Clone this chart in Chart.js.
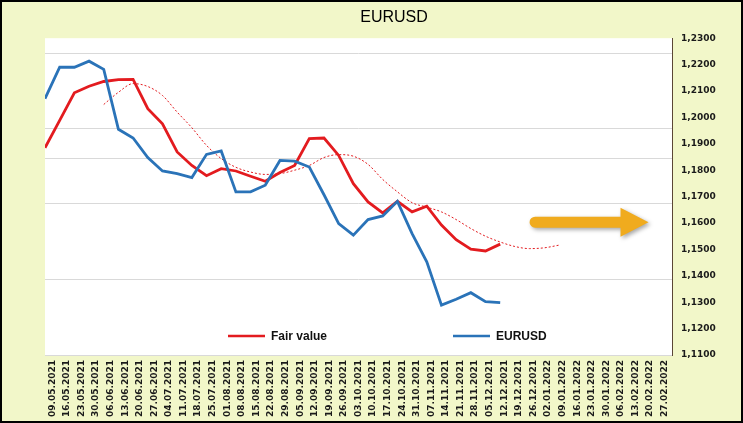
<!DOCTYPE html>
<html>
<head>
<meta charset="utf-8">
<title>EURUSD</title>
<script src="https://cdn.jsdelivr.net/npm/chart.js@4.4.1/dist/chart.umd.min.js"></script>
<style>
    body { margin: 0; background: #ffffff; }
    canvas { display: block; }
</style>
</head>
<body>
<canvas id="eurusdChart" width="743" height="423"></canvas>
<script>
// Weekly dates on the category axis
const weekLabels = [
    '09.05.2021', '16.05.2021', '23.05.2021', '30.05.2021', '06.06.2021', '13.06.2021',
    '20.06.2021', '27.06.2021', '04.07.2021', '11.07.2021', '18.07.2021', '25.07.2021',
    '01.08.2021', '08.08.2021', '15.08.2021', '22.08.2021', '29.08.2021', '05.09.2021',
    '12.09.2021', '19.09.2021', '26.09.2021', '03.10.2021', '10.10.2021', '17.10.2021',
    '24.10.2021', '31.10.2021', '07.11.2021', '14.11.2021', '21.11.2021', '28.11.2021',
    '05.12.2021', '12.12.2021', '19.12.2021', '26.12.2021', '02.01.2022', '09.01.2022',
    '16.01.2022', '23.01.2022', '30.01.2022', '06.02.2022', '13.02.2022', '20.02.2022',
    '27.02.2022'
];

const fairValue = [
    1.1885, 1.1989, 1.2093, 1.2118, 1.2136, 1.2143, 1.2144, 1.2033, 1.1976, 1.1869,
    1.1818, 1.1779, 1.1806, 1.1797, 1.1777, 1.1758, 1.1791, 1.1818, 1.1920, 1.1922,
    1.1856, 1.1749, 1.1680, 1.1638, 1.1682, 1.1642, 1.1664, 1.1592, 1.1537, 1.1501,
    1.1494, 1.1520
];

const eurusd = [
    1.2071, 1.2190, 1.2190, 1.2213, 1.2182, 1.1955, 1.1922, 1.1848, 1.1797, 1.1787,
    1.1772, 1.1860, 1.1873, 1.1718, 1.1718, 1.1743, 1.1837, 1.1834, 1.1812, 1.1707,
    1.1598, 1.1554, 1.1613, 1.1627, 1.1682, 1.1560, 1.1453, 1.1289, 1.1311, 1.1336,
    1.1302, 1.1298
];

// smoothed trend of fair value (dotted), starts at week 5
const fairTrend = [
    null, null, null, null, 1.2049, 1.2095, 1.2128, 1.2117, 1.2083, 1.2020,
    1.1961, 1.1894, 1.1844, 1.1811, 1.1793, 1.1784, 1.1787, 1.1800, 1.1818, 1.1848,
    1.1859, 1.1853, 1.1822, 1.1765, 1.1718, 1.1677, 1.1660, 1.1642, 1.1613, 1.1579,
    1.1550, 1.1528, 1.1511, 1.1503, 1.1506, 1.1516
];

// Axis range
const yMin = 1.11;
const yMax = 1.23;
const yStep = 0.01;

// levels of the light horizontal grid lines
const gridLevels = [1.2243, 1.1957, 1.1843, 1.1674, 1.1387];

// orange arrow (week index from / to, price level)
const arrowFrom = 33.0;
const arrowTo = 41.1;
const arrowLevel = 1.1603;

const RED = '#e31b1f';
const BLUE = '#2a73b8';

function toPoints(values) {
    return values.map((v, i) => ({ x: i, y: v }));
}

// Background, white plot area and outer frame
const framePlugin = {
    id: 'frame',
    beforeDraw(chart) {
        const ctx = chart.ctx;
        const area = chart.chartArea;
        ctx.save();
        ctx.fillStyle = '#f2f7c9';
        ctx.fillRect(0, 0, chart.width, chart.height);
        ctx.fillStyle = '#ffffff';
        ctx.fillRect(area.left, area.top, area.right - area.left, area.bottom - area.top);
        ctx.restore();
    },
    afterDraw(chart) {
        const ctx = chart.ctx;
        ctx.save();
        ctx.strokeStyle = '#000000';
        ctx.lineWidth = 2;
        ctx.strokeRect(1, 1, chart.width - 2, chart.height - 2);
        ctx.restore();
    }
};

// Orange arrow pointing to the right
const arrowPlugin = {
    id: 'arrow',
    afterDatasetsDraw(chart) {
        const ctx = chart.ctx;
        const xs = chart.scales.xl;
        const ys = chart.scales.y;
        const x0 = xs.getPixelForValue(arrowFrom);
        const x1 = xs.getPixelForValue(arrowTo);
        const yc = ys.getPixelForValue(arrowLevel);
        const shaft = 5.5;
        const head = 14.5;
        const headLen = 28;
        ctx.save();
        ctx.shadowColor = 'rgba(0,0,0,0.35)';
        ctx.shadowBlur = 4;
        ctx.shadowOffsetX = 2;
        ctx.shadowOffsetY = 2;
        ctx.fillStyle = '#f0ab1e';
        ctx.beginPath();
        ctx.moveTo(x0 + shaft, yc - shaft);
        ctx.lineTo(x1 - headLen, yc - shaft);
        ctx.lineTo(x1 - headLen, yc - head);
        ctx.lineTo(x1, yc);
        ctx.lineTo(x1 - headLen, yc + head);
        ctx.lineTo(x1 - headLen, yc + shaft);
        ctx.lineTo(x0 + shaft, yc + shaft);
        ctx.arc(x0 + shaft, yc, shaft, Math.PI / 2, Math.PI * 1.5);
        ctx.closePath();
        ctx.fill();
        ctx.restore();
    }
};

// Legend drawn inside the plot area, near the bottom
const innerLegendPlugin = {
    id: 'innerLegend',
    afterDraw(chart) {
        const ctx = chart.ctx;
        const area = chart.chartArea;
        const y = area.bottom - 19;
        const items = [
            { text: 'Fair value', color: RED, x: area.left + 183 },
            { text: 'EURUSD', color: BLUE, x: area.left + 408 }
        ];
        ctx.save();
        ctx.font = 'bold 12px "Liberation Sans", Arial, sans-serif';
        ctx.textBaseline = 'middle';
        items.forEach(item => {
            ctx.strokeStyle = item.color;
            ctx.lineWidth = 2.5;
            ctx.beginPath();
            ctx.moveTo(item.x, y);
            ctx.lineTo(item.x + 37, y);
            ctx.stroke();
            ctx.fillStyle = '#111111';
            ctx.fillText(item.text, item.x + 43, y + 1);
        });
        ctx.restore();
    }
};

const ctx = document.getElementById('eurusdChart').getContext('2d');
new Chart(ctx, {
    type: 'line',
    data: {
        labels: weekLabels,
        datasets: [
            {
                label: 'Fair value',
                data: toPoints(fairValue),
                xAxisID: 'xl',
                borderColor: RED,
                borderWidth: 2.8,
                pointRadius: 0,
                tension: 0,
                order: 2
            },
            {
                label: 'EURUSD',
                data: toPoints(eurusd),
                xAxisID: 'xl',
                borderColor: BLUE,
                borderWidth: 2.8,
                pointRadius: 0,
                tension: 0,
                order: 1
            },
            {
                label: 'Trend',
                data: toPoints(fairTrend),
                xAxisID: 'xl',
                borderColor: RED,
                borderWidth: 1,
                borderDash: [2, 2],
                pointRadius: 0,
                cubicInterpolationMode: 'monotone',
                spanGaps: false,
                order: 3
            }
        ]
    },
    options: {
        responsive: false,
        animation: false,
        layout: { padding: { left: 45, right: 0, top: 0, bottom: 0 } },
        plugins: {
            legend: { display: false },
            tooltip: { enabled: false },
            title: {
                display: true,
                text: 'EURUSD',
                color: '#000000',
                font: { family: '"Liberation Sans", Arial, sans-serif', size: 16, weight: 'normal' },
                padding: { top: 8, bottom: 11 }
            }
        },
        scales: {
            x: {
                type: 'category',
                offset: true,
                grid: { display: false, drawTicks: false },
                border: { display: true, color: '#d9d9d9' },
                ticks: {
                    autoSkip: false,
                    maxRotation: 90,
                    minRotation: 90,
                    padding: 5,
                    color: '#1a1a1a',
                    font: { family: '"DejaVu Sans", Verdana, sans-serif', size: 9, weight: 'bold' }
                },
                afterFit(scale) { scale.height = 68; }
            },
            xl: {
                type: 'linear',
                display: false,
                min: 0,
                max: 42.7
            },
            y: {
                position: 'right',
                min: yMin,
                max: yMax,
                grid: { drawOnChartArea: false, drawTicks: false },
                border: { display: true, color: '#5b4636', width: 1 },
                ticks: {
                    stepSize: yStep,
                    padding: 9,
                    color: '#1a1a1a',
                    font: { family: '"DejaVu Sans", Verdana, sans-serif', size: 9, weight: 'bold' },
                    callback: v => v.toFixed(4).replace('.', ',')
                },
                afterFit(scale) { scale.width = 71; }
            },
            yGrid: {
                position: 'left',
                min: yMin,
                max: yMax,
                afterBuildTicks(scale) {
                    scale.ticks = gridLevels.map(v => ({ value: v }));
                },
                ticks: { display: false },
                grid: { color: '#d9d9d9', drawTicks: false },
                border: { display: false },
                afterFit(scale) { scale.width = 0; }
            }
        }
    },
    plugins: [framePlugin, arrowPlugin, innerLegendPlugin]
});
</script>
</body>
</html>
